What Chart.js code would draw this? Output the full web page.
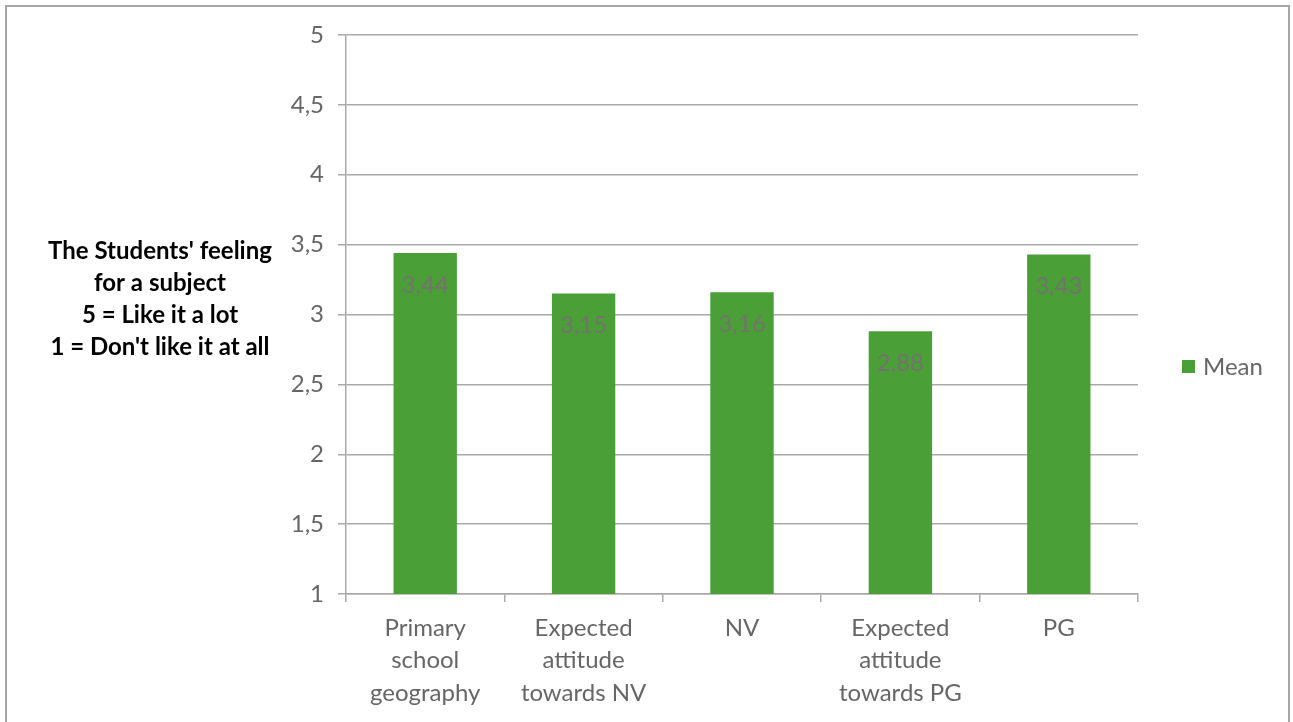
<!DOCTYPE html>
<html>
<head>
<meta charset="utf-8">
<script src="https://cdn.jsdelivr.net/npm/chart.js@4.4.1/dist/chart.umd.min.js"></script>
<style>
html,body{margin:0;padding:0;background:#fff;}
canvas{display:block;}
</style>
</head>
<body>
<canvas id="c" width="1293" height="722"></canvas>
<script>
const categories = [
  ['Primary', 'school', 'geography'],
  ['Expected', 'attitude', 'towards NV'],
  ['NV'],
  ['Expected', 'attitude', 'towards PG'],
  ['PG']
];
const meanValues = [3.44, 3.15, 3.16, 2.88, 3.43];
const valueLabels = ['3,44', '3,15', '3,16', '2,88', '3,43'];
const yTickLabels = ['1', '1,5', '2', '2,5', '3', '3,5', '4', '4,5', '5'];
const seriesName = 'Mean';
const yTitleLines = ["The Students' feeling", 'for a subject', '5 = Like it a lot', "1 = Don't like it at all"];

const FONT = 'Lato, "Open Sans", sans-serif';
const GRID = '#a9a9a9';
const TICKCOL = '#666666';
const BARCOL = '#4a9f36';

const decorPlugin = {
  id: 'decor',
  beforeDraw(chart) {
    const ctx = chart.ctx;
    ctx.save();
    ctx.fillStyle = '#ffffff';
    ctx.fillRect(0, 0, chart.width, chart.height);
    ctx.strokeStyle = '#a6a6a6';
    ctx.lineWidth = 2;
    ctx.strokeRect(6, 6, 1283, 760);
    ctx.restore();
  },
  afterDatasetsDraw(chart) {
    const ctx = chart.ctx;
    const meta = chart.getDatasetMeta(0);
    ctx.save();
    ctx.font = '24px ' + FONT;
    ctx.fillStyle = '#767171';
    ctx.textAlign = 'center';
    ctx.textBaseline = 'middle';
    meta.data.forEach((el, i) => {
      ctx.fillText(valueLabels[i], el.x, el.y + 32);
    });
    ctx.restore();
  },
  afterDraw(chart) {
    const ctx = chart.ctx;
    ctx.save();
    ctx.font = 'bold 24px ' + FONT;
    ctx.fillStyle = '#000000';
    ctx.textAlign = 'center';
    ctx.textBaseline = 'middle';
    yTitleLines.forEach((line, i) => {
      ctx.fillText(line, 160, 251 + i * 32);
    });
    const ds = chart.data.datasets[0];
    ctx.fillStyle = ds.backgroundColor;
    ctx.fillRect(1182, 360, 13, 13);
    ctx.font = '24px ' + FONT;
    ctx.fillStyle = TICKCOL;
    ctx.textAlign = 'left';
    ctx.fillText(ds.label, 1203, 367);
    ctx.restore();
  }
};

new Chart(document.getElementById('c'), {
  type: 'bar',
  data: {
    labels: categories,
    datasets: [{
      label: seriesName,
      data: meanValues,
      backgroundColor: BARCOL,
      barPercentage: 0.8,
      categoryPercentage: 0.5
    }]
  },
  options: {
    responsive: false,
    animation: false,
    layout: { padding: { top: 35, right: 155, bottom: 0, left: 0 } },
    plugins: {
      legend: { display: false },
      tooltip: { enabled: false }
    },
    scales: {
      x: {
        grid: { drawOnChartArea: false, drawTicks: true, tickLength: 8, color: GRID, lineWidth: 1.5 },
        border: { color: GRID, width: 1.5 },
        ticks: {
          font: { family: FONT, size: 24, lineHeight: 1.354 },
          color: TICKCOL,
          padding: 10,
          maxRotation: 0,
          autoSkip: false
        },
        afterFit(s) { s.height = 128; }
      },
      y: {
        min: 1,
        max: 5,
        grid: { color: GRID, lineWidth: 1.5, tickLength: 8 },
        border: { color: GRID, width: 1.5 },
        ticks: {
          stepSize: 0.5,
          font: { family: FONT, size: 24 },
          color: TICKCOL,
          padding: 14,
          callback: (v, i) => yTickLabels[i]
        },
        afterFit(s) { s.width = 346; }
      }
    }
  },
  plugins: [decorPlugin]
});
</script>
</body>
</html>
